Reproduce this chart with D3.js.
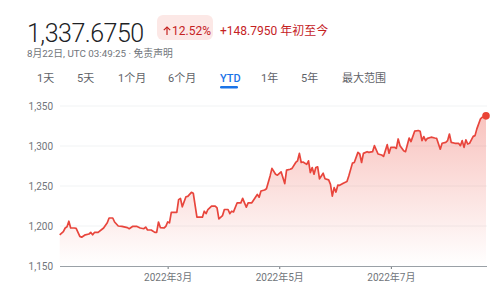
<!DOCTYPE html>
<html><head><meta charset="utf-8">
<script src="https://cdn.jsdelivr.net/npm/d3@7"></script>
<style>
html,body{margin:0;padding:0;background:#fff;}
svg{display:block;font-family:Roboto,"Noto Sans CJK SC",sans-serif;}
</style></head>
<body>
<svg id="c" width="500" height="296"></svg>
<script>
const dates = ["2022-01-01","2022-01-03","2022-01-04","2022-01-05","2022-01-06","2022-01-07","2022-01-09","2022-01-10","2022-01-12","2022-01-13","2022-01-15","2022-01-17","2022-01-18","2022-01-19","2022-01-20","2022-01-22","2022-01-25","2022-01-27","2022-01-28","2022-01-30","2022-01-31","2022-02-02","2022-02-04","2022-02-07","2022-02-08","2022-02-10","2022-02-12","2022-02-14","2022-02-16","2022-02-17","2022-02-18","2022-02-20","2022-02-22","2022-02-23","2022-02-24","2022-02-25","2022-02-27","2022-02-28","2022-03-01","2022-03-02","2022-03-03","2022-03-06","2022-03-07","2022-03-08","2022-03-09","2022-03-11","2022-03-12","2022-03-14","2022-03-15","2022-03-17","2022-03-19","2022-03-20","2022-03-21","2022-03-22","2022-03-23","2022-03-25","2022-03-27","2022-03-28","2022-03-29","2022-03-31","2022-04-01","2022-04-03","2022-04-04","2022-04-05","2022-04-06","2022-04-08","2022-04-10","2022-04-11","2022-04-12","2022-04-13","2022-04-14","2022-04-16","2022-04-18","2022-04-19","2022-04-20","2022-04-21","2022-04-23","2022-04-24","2022-04-26","2022-04-27","2022-04-29","2022-04-30","2022-05-02","2022-05-04","2022-05-05","2022-05-07","2022-05-08","2022-05-10","2022-05-11","2022-05-12","2022-05-13","2022-05-14","2022-05-16","2022-05-17","2022-05-18","2022-05-19","2022-05-20","2022-05-21","2022-05-22","2022-05-23","2022-05-24","2022-05-25","2022-05-26","2022-05-28","2022-05-29","2022-05-30","2022-05-31","2022-06-01","2022-06-02","2022-06-03","2022-06-05","2022-06-07","2022-06-08","2022-06-10","2022-06-11","2022-06-13","2022-06-14","2022-06-15","2022-06-16","2022-06-18","2022-06-19","2022-06-21","2022-06-22","2022-06-24","2022-06-26","2022-06-27","2022-06-29","2022-06-30","2022-07-01","2022-07-03","2022-07-04","2022-07-05","2022-07-06","2022-07-08","2022-07-09","2022-07-11","2022-07-12","2022-07-14","2022-07-16","2022-07-17","2022-07-18","2022-07-19","2022-07-20","2022-07-21","2022-07-23","2022-07-25","2022-07-26","2022-07-28","2022-07-29","2022-07-31","2022-08-01","2022-08-02","2022-08-03","2022-08-05","2022-08-07","2022-08-08","2022-08-09","2022-08-10","2022-08-11","2022-08-12","2022-08-13","2022-08-15","2022-08-16","2022-08-17","2022-08-19","2022-08-20","2022-08-22"];
const values = [1189,1193,1197.5,1199,1206,1197.5,1197.5,1197,1187,1186,1189,1190,1192,1189,1192,1192,1197.5,1204,1210,1210,1205,1200,1199.6,1198,1196.6,1199.6,1199.6,1197.5,1196.6,1198.7,1195,1195,1192,1192,1205,1198,1197.5,1199.6,1205,1204,1217,1217,1233,1234.5,1224,1236.6,1237,1242,1241,1211,1211,1211,1218.5,1215.5,1220.6,1224.8,1224.8,1222.7,1209,1213,1220.6,1220.6,1215.5,1218.5,1217.6,1229,1229,1234.5,1229,1223.5,1229,1229,1236,1239.5,1236,1243.7,1245,1246.6,1262.6,1272,1264.7,1263.5,1267.7,1253,1269.8,1271,1272,1279.4,1281.5,1290.8,1279.4,1280,1277,1281.5,1266.8,1273,1264.7,1273,1274,1259,1262.6,1266,1259,1257.6,1252,1237.4,1248,1242.4,1251,1250.8,1253.4,1255.5,1262.6,1278.6,1279.4,1292,1290,1279.4,1290.8,1292.9,1292,1292.9,1300.4,1290,1288.7,1287,1301.7,1291,1298.3,1298.3,1297,1308.8,1300.4,1294,1292.9,1310,1305.5,1318.5,1319.4,1318.5,1306.7,1311.8,1306.7,1309.6,1311,1310,1309.6,1296,1303.4,1304.6,1306.7,1315,1304.6,1303.4,1303.4,1300.4,1306.7,1298.3,1307.6,1302.5,1303.4,1312,1313,1321.4,1334,1336,1337.675];
const yTicks = [1150,1200,1250,1300,1350];
const xTickDates = ["2022-03-01","2022-05-01","2022-07-01"];
const xTickLabels = ["2022年3月","2022年5月","2022年7月"];
const tabs = ["1天","5天","1个月","6个月","YTD","1年","5年","最大范围"];
const priceText = "1,337.6750";
const changePct = "12.52%";
const changeAbs = "+148.7950 年初至今";
const subText = "8月22日, UTC 03:49:25 · 免责声明";

const parse = d3.timeParse("%Y-%m-%d");
const data = dates.map((d,i)=>({date:parse(d), value:values[i]}));
const svg = d3.select("#c");

// Header
svg.append("text").attr("x",27).attr("y",42).attr("font-size",25).attr("font-weight",300)
  .attr("letter-spacing",-0.5).attr("fill","#202124").text(priceText);
svg.append("rect").attr("x",157).attr("y",15).attr("width",56).attr("height",25).attr("rx",6).attr("fill","#fce8e6");
// arrow
const ag = svg.append("g").attr("stroke","#c5221f").attr("stroke-width",1.2).attr("fill","none");
ag.append("line").attr("x1",167).attr("x2",167).attr("y1",27).attr("y2",35);
ag.append("path").attr("d","M163.8,30.2 L167,27 L170.2,30.2");
svg.append("text").attr("x",172).attr("y",35).attr("font-size",12).attr("fill","#c5221f").text(changePct);
svg.append("text").attr("x",220).attr("y",35).attr("font-size",12).attr("fill","#c5221f").text(changeAbs);
svg.append("text").attr("x",27).attr("y",56.5).attr("font-size",9.8).attr("fill","#70757a").text(subText);

// Tabs
const tabX = [37,77,118,168,220,261,301,342];
tabs.forEach((t,i)=>{
  const sel = t==="YTD";
  svg.append("text").attr("x",tabX[i]).attr("y",82).attr("font-size",11)
    .attr("fill", sel?"#1a73e8":"#5f6368").attr("font-weight", sel?500:400).text(t);
  if(sel){
    svg.append("rect").attr("x",220).attr("y",86).attr("width",18).attr("height",2.5).attr("rx",1.2).attr("fill","#1a73e8");
  }
});

// Chart
const x = d3.scaleTime().domain([parse("2022-01-01"), parse("2022-08-22")]).range([59.7,486]);
const y = d3.scaleLinear().domain([1150,1350]).range([266,106]);

const defs = svg.append("defs");
const grad = defs.append("linearGradient").attr("id","g")
  .attr("gradientUnits","userSpaceOnUse").attr("x1",0).attr("x2",0).attr("y1",y(1350)).attr("y2",y(1150));
grad.append("stop").attr("offset",0).attr("stop-color","#ea4335").attr("stop-opacity",0.34);
grad.append("stop").attr("offset",1).attr("stop-color","#ea4335").attr("stop-opacity",0.0);

// gridlines
svg.append("g").selectAll("line").data(yTicks.filter(v=>v!==1150)).join("line")
  .attr("x1",60).attr("x2",487).attr("y1",d=>y(d)).attr("y2",d=>y(d))
  .attr("stroke","#f1f3f4").attr("stroke-width",1);

// y labels
svg.append("g").selectAll("text").data(yTicks).join("text")
  .attr("x",53).attr("y",d=>y(d)+3.5).attr("text-anchor","end").attr("font-size",10).attr("fill","#70757a")
  .text(d=>d3.format(",")(d));

// area
svg.append("path").datum(data)
  .attr("d", d3.area().x(d=>x(d.date)).y0(y(1150)).y1(d=>y(d.value)))
  .attr("fill","url(#g)");

// x axis
const xAxis = d3.axisBottom(x).tickValues(xTickDates.map(parse)).tickSize(3).tickFormat((d,i)=>xTickLabels[i]);
const gx = svg.append("g").attr("transform",`translate(0,${y(1150)})`).call(xAxis);
gx.select(".domain").remove();
gx.selectAll(".tick line").attr("stroke","#70757a");
gx.selectAll(".tick text").attr("font-size",10).attr("fill","#70757a").attr("font-family","Roboto,'Noto Sans CJK SC',sans-serif").attr("dy","0.9em");
svg.append("line").attr("x1",60).attr("x2",487).attr("y1",y(1150)+0.5).attr("y2",y(1150)+0.5).attr("stroke","#9aa0a6").attr("stroke-width",1);

// line
svg.append("path").datum(data)
  .attr("d", d3.line().x(d=>x(d.date)).y(d=>y(d.value)))
  .attr("fill","none").attr("stroke","#e8453c").attr("stroke-width",1.7).attr("stroke-linejoin","round");

// end dot
const last = data[data.length-1];
svg.append("circle").attr("cx",x(last.date)).attr("cy",y(last.value)).attr("r",3.8).attr("fill","#ea4335");
</script>
</body></html>
